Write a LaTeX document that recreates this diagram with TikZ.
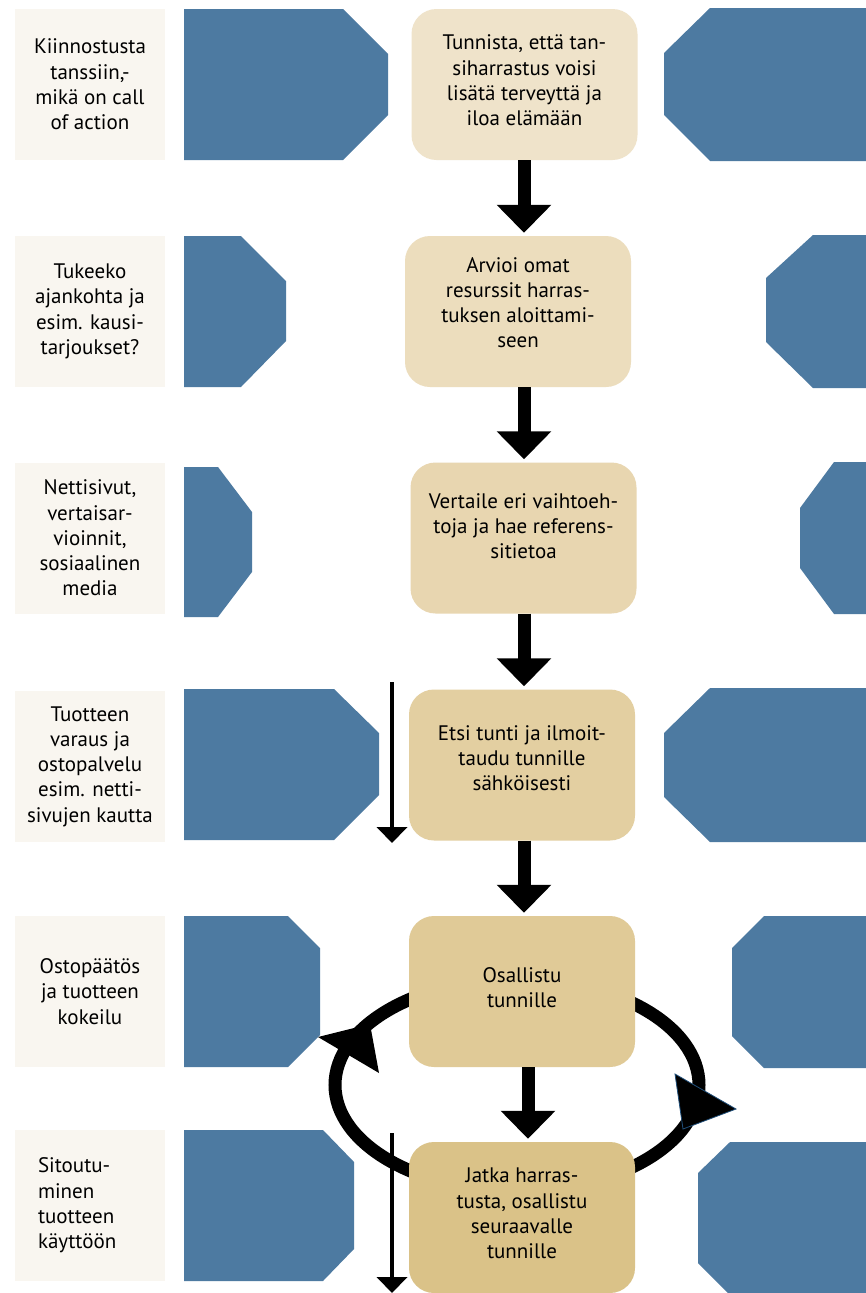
\documentclass[tikz,border=0pt]{standalone}
\usepackage{fontspec}
\setmainfont{PT Sans}
\usetikzlibrary{arrows.meta, backgrounds}

\definecolor{lblcream}{HTML}{F9F6F0}
\definecolor{tagblue}{HTML}{4D7AA1}
\definecolor{tipblue}{HTML}{1F4E79}
\definecolor{stage1}{HTML}{EFE3CA}
\definecolor{stage2}{HTML}{ECDDBD}
\definecolor{stage3}{HTML}{E8D6B0}
\definecolor{stage4}{HTML}{E3CFA1}
\definecolor{stage5}{HTML}{E0CA97}
\definecolor{stage6}{HTML}{DAC288}

\begin{document}
\begin{tikzpicture}[
    x=1pt, y=-1pt,
    font=\fontsize{21}{25.3}\selectfont,
    lbl/.style  = {fill=lblcream, minimum width=150pt, minimum height=151pt, inner sep=0pt, align=center},
    stg/.style  = {rounded corners=25pt, minimum width=226pt, minimum height=151pt, inner sep=0pt,
                   align=center, text depth=8pt},
    flow/.style = {-{Triangle[length=28pt,width=53pt]}, line width=13pt, shorten >=3pt},
    tarr/.style = {-{Triangle[length=16pt,width=30pt]}, line width=4pt},
    cyc/.style  = {line width=13pt},
    tagfill/.style = {fill=tagblue}
  ]
  \useasboundingbox (0,0) rectangle (866,1293);

  % --- labels (left column) ---
  \node[lbl] (L1) at (90,84.5)   {Kiinnostusta\\tanssiin,-\\mikä on call\\of action};
  \node[lbl] (L2) at (90,311.5)  {Tukeeko\\ajankohta ja\\esim. kausi-\\tarjoukset?};
  \node[lbl] (L3) at (90,538)    {Nettisivut,\\vertaisar-\\vioinnit,\\sosiaalinen\\media};
  \node[lbl] (L4) at (90,766.5)  {Tuotteen\\varaus ja\\ostopalvelu\\esim. netti-\\sivujen kautta};
  \node[lbl] (L5) at (90,991.5)  {Ostopäätös\\ja tuotteen\\kokeilu};
  \node[lbl, align=left, text width=104pt, inner xsep=23pt] (L6) at (90,1205.5)
       {Sitoutu-\\minen\\tuotteen\\käyttöön};

  % --- blue tags (left) ---
  \fill[tagfill] (184,9) -- (343,9) -- (388,54) -- (388,115) -- (343,160) -- (184,160) -- cycle;
  \fill[tagfill] (184,236) -- (241,236) -- (286,281) -- (286,341) -- (241,387) -- (184,387) -- cycle;
  \fill[tagfill] (184,467) -- (218,467) -- (252,512) -- (252,572) -- (218,617) -- (184,617) -- cycle;
  \fill[tagfill] (184,689) -- (334,689) -- (379,733) -- (379,795) -- (334,840) -- (184,840) -- cycle;
  \fill[tagfill] (184,916) -- (288,916) -- (320,948) -- (320,1035) -- (288,1067) -- (184,1067) -- cycle;
  \fill[tagfill] (184,1130) -- (323,1130) -- (354,1162) -- (354,1249) -- (323,1281) -- (184,1281) -- cycle;

  % --- blue tags (right) ---
  \fill[tagfill] (866,8) -- (710,8) -- (664,53) -- (664,115) -- (710,161) -- (866,161) -- cycle;
  \fill[tagfill] (866,235) -- (813,235) -- (766,278) -- (766,342) -- (813,388) -- (866,388) -- cycle;
  \fill[tagfill] (866,462) -- (834,462) -- (800,508) -- (800,568) -- (834,614) -- (866,614) -- cycle;
  \fill[tagfill] (866,688) -- (710,688) -- (664,733) -- (664,797) -- (710,842) -- (866,842) -- cycle;
  \fill[tagfill] (866,916) -- (764,916) -- (732,948) -- (732,1036) -- (764,1068) -- (866,1068) -- cycle;
  \fill[tagfill] (866,1142) -- (730,1142) -- (698,1173) -- (698,1263) -- (728,1293) -- (866,1293) -- cycle;

  % --- stages (middle column) ---
  \node[stg, fill=stage1] (S1) at (524.5,84.5) {Tunnista, että tan-\\siharrastus voisi\\lisätä terveyttä ja\\iloa elämään};
  \node[stg, fill=stage2, text depth=18pt] (S2) at (518,311.5) {Arvioi omat\\resurssit harras-\\tuksen aloittami-\\seen};
  \node[stg, fill=stage3, text depth=24pt] (S3) at (523.5,538) {Vertaile eri vaihtoeh-\\toja ja hae referens-\\sitietoa};
  \node[stg, fill=stage4, text depth=14pt] (S4) at (522,765) {Etsi tunti ja ilmoit-\\taudu tunnille\\sähköisesti};
  \node[stg, fill=stage5] (S5) at (522,991.5)  {Osallistu\\tunnille};
  \node[stg, fill=stage6] (S6) at (522,1217.5) {Jatka harras-\\tusta, osallistu\\seuraavalle\\tunnille};

  % --- flow arrows ---
  \coordinate (ax)  at (524,0);
  \coordinate (ax5) at (528,0);
  \draw[flow] (S1.south -| ax) -- (S2.north -| ax);
  \draw[flow] (S2.south -| ax) -- (S3.north -| ax);
  \draw[flow] (S3.south -| ax) -- (S4.north -| ax);
  \draw[flow] (S4.south -| ax) -- (S5.north -| ax);
  \draw[flow] (S5.south -| ax5) -- (S6.north -| ax5);

  % --- thin arrows ---
  \coordinate (T1a) at (392,682);
  \coordinate (T1b) at (392,843);
  \coordinate (T2a) at (392,1133);
  \coordinate (T2b) at (392,1293);
  \draw[tarr] (T1a) -- (T1b);
  \draw[tarr] (T2a) -- (T2b);

  % --- repeat loop (behind the stages) ---
  \coordinate (loopc) at (517,1085);
  \begin{scope}[on background layer]
    \fill[white] (0,0) rectangle (866,1293);
    \draw[cyc] (loopc) ellipse [x radius=182pt, y radius=106pt];
  \end{scope}
  \fill (318,1037) -- (370,1024) -- (379,1073) -- cycle;
  \filldraw[draw=tipblue, line width=0.8pt] (736,1109) -- (675,1074) -- (683,1129) -- cycle;

\end{tikzpicture}
\end{document}
